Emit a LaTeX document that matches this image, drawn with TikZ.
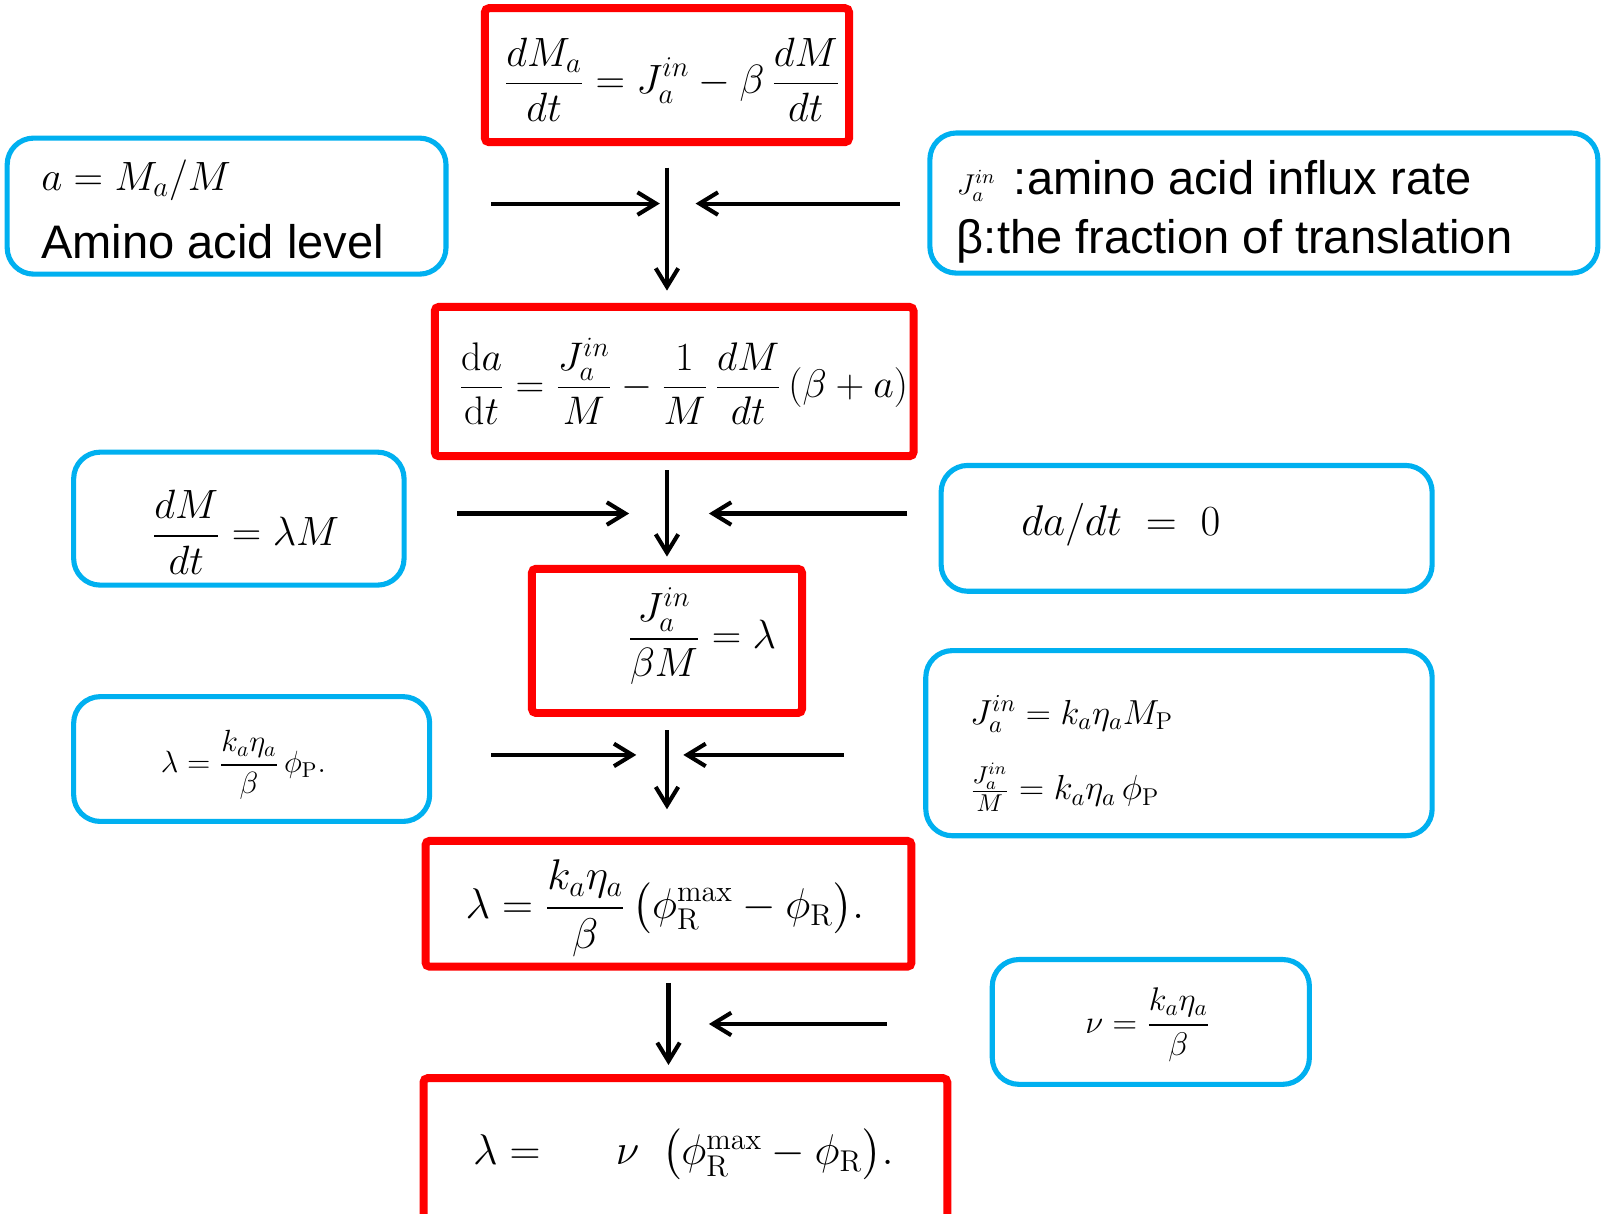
\documentclass[tikz,border=0pt]{standalone}
\IfFileExists{fix-cm.sty}{\usepackage{fix-cm}}{}
\usepackage{amsmath}
\usepackage{fontspec}
\newfontfamily\arialfont{Liberation Sans}
\usetikzlibrary{arrows.meta}
\definecolor{boxblue}{RGB}{0,176,240}
\newcommand{\eqfs}[1]{\fontsize{#1}{#1}\selectfont}

\begin{document}
\begin{tikzpicture}[x=0.5pt,y=-0.5pt,>={Straight Barb[length=9pt,width=11pt]},
    redbox/.style={draw=red,line width=3.9pt,rounded corners=2pt,inner sep=0pt},
    bluebox/.style={draw=boxblue,line width=2.5pt,rounded corners=13pt,inner sep=0pt},
    eq/.style={inner sep=0pt},
    arr/.style={->,line width=2pt}]

\path[use as bounding box,fill=white] (0,0) rectangle (1568,1186);

% Main chain (red)
\node[redbox,minimum width=178pt,minimum height=65.5pt] (r1) at (652,73.5) {};
\node[redbox,minimum width=234pt,minimum height=73pt] (r2) at (659,373) {};
\node[redbox,minimum width=132pt,minimum height=70.5pt] (r3) at (652,626.5) {};
\node[redbox,minimum width=237.5pt,minimum height=61.5pt] (r4) at (653.5,883.5) {};
\node[redbox,minimum width=256pt,minimum height=71pt] (r5) at (670,1125) {};

\node[eq] (r1eq) at (657,78) {\eqfs{20}$\displaystyle\frac{dM_a}{dt} = J_a^{in} - \beta\,\frac{dM}{dt}$};
\node[eq] (r2eq) at (668,373) {\eqfs{19.5}$\displaystyle\frac{\mathrm{d}a}{\mathrm{d}t} = \frac{J_a^{in}}{M} - \frac{1}{M}\,\frac{dM}{dt}\,(\beta+a)$};
\node[eq] (r3eq) at (686,622) {\eqfs{20}$\displaystyle\frac{J_a^{in}}{\beta M} = \lambda$};
\node[eq] (r4eq) at (650,888) {\eqfs{21}$\displaystyle\lambda = \frac{k_a\eta_a}{\beta}\,\bigl(\phi_{\mathrm{R}}^{\max} - \phi_{\mathrm{R}}\bigr).$};
\node[eq] (r5eq) at (668,1128) {\eqfs{21}$\lambda = \hspace{31pt}\nu\hspace{11pt}\bigl(\phi_{\mathrm{R}}^{\max} - \phi_{\mathrm{R}}\bigr).$};

% Side conditions (blue)
\node[bluebox,minimum width=214.5pt,minimum height=66.5pt] (aml) at (221.5,201.5) {};
\node[bluebox,minimum width=326.5pt,minimum height=68.5pt] (defs) at (1235.5,198.5) {};
\node[bluebox,minimum width=161.5pt,minimum height=65pt] (growth) at (233.5,507) {};
\node[bluebox,minimum width=240pt,minimum height=61.5pt] (steady) at (1160,516.5) {};
\node[bluebox,minimum width=174pt,minimum height=61pt] (lamp) at (246,742) {};
\node[bluebox,minimum width=247.5pt,minimum height=90.5pt] (influx) at (1152.5,726.5) {};
\node[bluebox,minimum width=155pt,minimum height=61pt] (nu) at (1125,999) {};

\node[eq,anchor=base west] (amleq) at (40,186) {\eqfs{20}$a = M_a/M$};
\node[eq,anchor=base west] (amltxt) at (40,253) {\arialfont\eqfs{23}Amino acid level};
\node[eq,anchor=base west] (defs1) at (935,190) {\eqfs{14}$J_a^{in}$\hspace{9pt}\arialfont\eqfs{23}:amino acid influx rate};
\node[eq,anchor=base west] (defs2) at (935,248) {\arialfont\eqfs{23}β:the fraction of translation};
\node[eq] (growtheq) at (240,520) {\eqfs{20}$\displaystyle\frac{dM}{dt} = \lambda M$};
\node[eq,anchor=base west] (steadyeq) at (998,523) {\eqfs{21}$da/dt\;=\;0$};
\node[eq] (lampeq) at (238,748) {\eqfs{15}$\displaystyle\lambda = \frac{k_a\eta_a}{\beta}\,\phi_{\mathrm{P}}.$};
\node[eq,anchor=base west] (influx1) at (948,708) {\eqfs{17}$J_a^{in} = k_a\eta_a M_{\mathrm{P}}$};
\node[eq,anchor=base west] (influx2) at (948,782) {\eqfs{17}$\frac{J_a^{in}}{M} = k_a\eta_a\,\phi_{\mathrm{P}}$};
\node[eq] (nueq) at (1122,1002) {\eqfs{16}$\displaystyle\nu = \frac{k_a\eta_a}{\beta}$};

% Arrow ends
\coordinate (a1l) at (480,199);  \coordinate (a1m) at (645,199);
\coordinate (a1r) at (880,199);  \coordinate (a1n) at (680,199);
\coordinate (a2l) at (447,502);  \coordinate (a2m) at (615,502);
\coordinate (a2r) at (887,502);  \coordinate (a2n) at (693,502);
\coordinate (a3l) at (480,738);  \coordinate (a3m) at (622,738);
\coordinate (a3r) at (825,738);  \coordinate (a3n) at (668,738);
\coordinate (a4r) at (867,1001); \coordinate (a4n) at (693,1001);

% Arrows
\draw[arr,shorten <=10.5pt,shorten >=6pt] (r1.south) -- (r1.south |- r2.north);
\draw[arr,shorten <=5pt,shorten >=4pt] (r3.north |- r2.south) -- (r3.north);
\draw[arr,shorten <=6.5pt,shorten >=13.5pt] (r3.south) -- (r3.south |- r4.north);
\draw[arr,shorten <=6pt,shorten >=4.5pt] (r4.south) -- (r4.south |- r5.north);

\draw[arr] (a1l) -- (a1m);
\draw[arr] (a1r) -- (a1n);
\draw[arr] (a2l) -- (a2m);
\draw[arr] (a2r) -- (a2n);
\draw[arr] (a3l) -- (a3m);
\draw[arr] (a3r) -- (a3n);
\draw[arr] (a4r) -- (a4n);

\end{tikzpicture}
\end{document}
